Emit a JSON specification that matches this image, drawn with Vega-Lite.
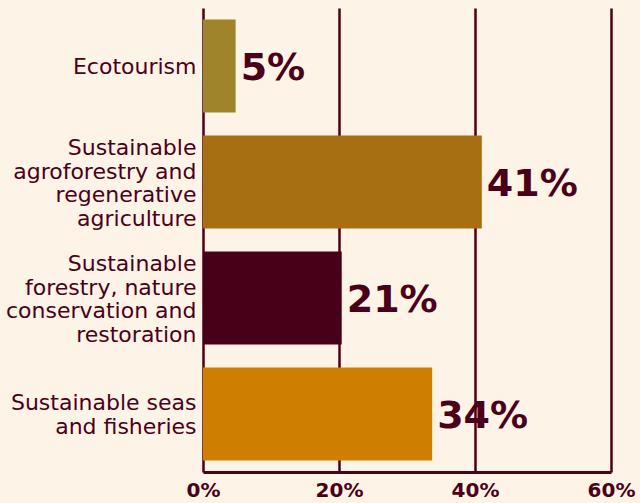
{
  "$schema": "https://vega.github.io/schema/vega-lite/v6.json",
  "width": 408,
  "height": 464,
  "autosize": {"type": "none"},
  "padding": {"left": 203, "top": 8, "right": 29, "bottom": 31},
  "background": "#fdf3e6",
  "config": {
    "view": {"stroke": null},
    "font": "DejaVu Sans"
  },
  "data": {
    "values": [
      {"category": "Ecotourism", "value": 4.8, "label": "5%"},
      {"category": "Sustainable|agroforestry and|regenerative|agriculture", "value": 41, "label": "41%"},
      {"category": "Sustainable|forestry, nature|conservation and|restoration", "value": 20.4, "label": "21%"},
      {"category": "Sustainable seas|and fisheries", "value": 33.7, "label": "34%"}
    ]
  },
  "encoding": {
    "y": {
      "field": "category",
      "type": "nominal",
      "sort": null,
      "scale": {"paddingInner": 0.2, "paddingOuter": 0.1},
      "axis": {
        "title": null,
        "domain": false,
        "ticks": false,
        "labelPadding": 7,
        "labelFont": "DejaVu Sans",
        "labelFontSize": 22,
        "labelColor": "#4a0018",
        "labelLineHeight": 23.5,
        "labelBaseline": "middle",
        "labelExpr": "split(datum.label, '|')",
        "labelLimit": 0,
        "labelOffset": {
          "condition": [
            {"test": "indexof(datum.value, 'agroforestry') >= 0 || indexof(datum.value, 'conservation') >= 0", "value": -34},
            {"test": "indexof(datum.value, 'seas') >= 0", "value": -11}
          ],
          "value": 1
        }
      }
    },
    "x": {
      "field": "value",
      "type": "quantitative",
      "scale": {"domain": [0, 60], "nice": false},
      "axis": {
        "title": null,
        "values": [0, 20, 40, 60],
        "labelExpr": "datum.value + '%'",
        "grid": true,
        "gridColor": "#4a0018",
        "gridWidth": 2.5,
        "gridOpacity": 1,
        "domain": true,
        "domainColor": "#4a0018",
        "domainWidth": 3,
        "ticks": false,
        "labelPadding": 8,
        "labelFont": "DejaVu Sans",
        "labelFontWeight": "bold",
        "labelFontSize": 20,
        "labelColor": "#4a0018",
        "labelFlush": false
      }
    }
  },
  "layer": [
    {
      "mark": {"type": "bar"},
      "encoding": {
        "color": {
          "field": "category",
          "type": "nominal",
          "sort": null,
          "legend": null,
          "scale": {"range": ["#a0842c", "#a86f12", "#480018", "#cf7f00"]}
        }
      }
    },
    {
      "mark": {
        "type": "text",
        "align": "left",
        "baseline": "middle",
        "dx": 5,
        "dy": 3,
        "font": "DejaVu Sans",
        "fontWeight": "bold",
        "fontSize": 38,
        "color": "#4a0018"
      },
      "encoding": {
        "text": {"field": "label", "type": "nominal"}
      }
    }
  ]
}
